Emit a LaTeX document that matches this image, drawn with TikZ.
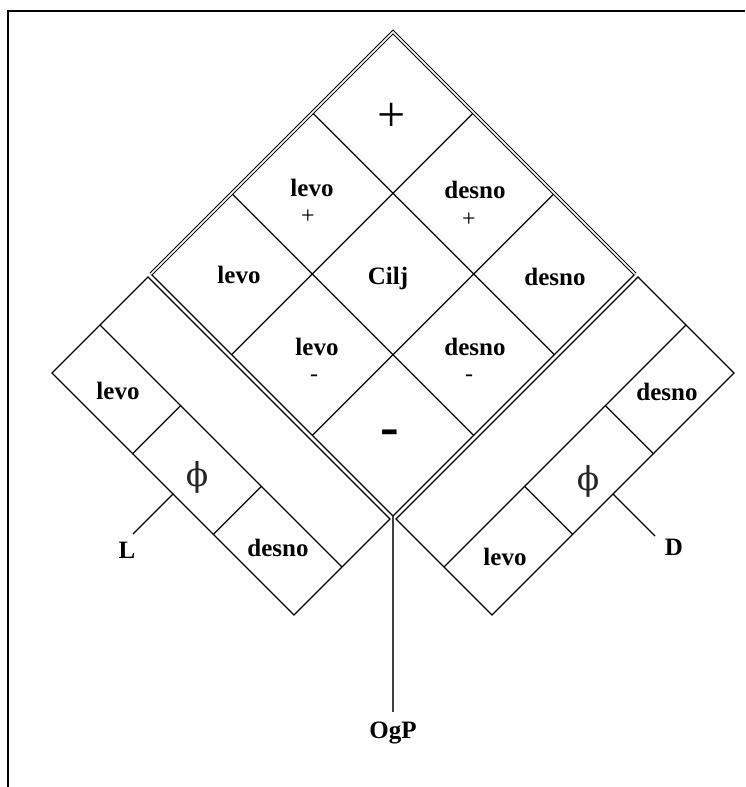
\documentclass[tikz,border=0pt]{standalone}
\usepackage{fontspec}
\setmainfont{Liberation Serif}
\newfontfamily\phifont{DejaVu Serif}
\usetikzlibrary{calc}
\begin{document}
\begin{tikzpicture}[x=1pt,y=-1pt,
  cell/.style={line width=1.2pt, line join=miter},
  frameline/.style={line width=1.6pt},
  dbl/.style={line width=1pt, double, double distance=1.6pt, line join=miter},
  stem/.style={line width=1.8pt, black!75},
  lbl/.style={font=\bfseries\fontsize{25}{25}\selectfont, inner sep=0pt},
  sml/.style={font=\fontsize{24}{24}\selectfont, inner sep=0pt},
  bigplus/.style={font=\fontsize{50}{50}\selectfont, inner sep=0pt},
  bigminus/.style={font=\bfseries\fontsize{56}{56}\selectfont, inner sep=0pt},
  phisym/.style={font=\phifont\fontsize{33}{33}\selectfont, inner sep=0pt, text=black!85}]
\useasboundingbox (0,0) rectangle (745,787);
% frame
\draw[frameline] (8,787) -- (8,11) -- (745,11);
% main diamond
\coordinate (T) at (393,32);
\coordinate (L) at (151,274);
\coordinate (R) at (635,274);
\coordinate (B) at (393,516);
\draw[cell] ($(T)!1/3!(R)$) -- ($(L)!1/3!(B)$);
\draw[cell] ($(T)!2/3!(R)$) -- ($(L)!2/3!(B)$);
\draw[cell] ($(T)!1/3!(L)$) -- ($(R)!1/3!(B)$);
\draw[cell] ($(T)!2/3!(L)$) -- ($(R)!2/3!(B)$);
\draw[cell] (L) -- (B) -- (R);
\draw[dbl] (L) -- (T) -- (R);
% left rectangle
\coordinate (A1) at ($(L)+(-3,3)$);
\coordinate (A2) at ($(B)+(-3,3)$);
\coordinate (A3) at ($(A2)+(-96,96)$);
\coordinate (A4) at ($(A1)+(-96,96)$);
\coordinate (M1) at ($(A1)!0.5!(A4)$);
\coordinate (M2) at ($(A2)!0.5!(A3)$);
\draw[cell] (A1) -- (A2) -- (A3) -- (A4) -- cycle;
\draw[cell] (M1) -- (M2);
\draw[cell] ($(A4)!1/3!(A3)$) -- ($(M1)!1/3!(M2)$);
\draw[cell] ($(A4)!2/3!(A3)$) -- ($(M1)!2/3!(M2)$);
\coordinate (Lp) at ($(A4)!0.5!(A3)$);
\coordinate (Le) at ($(Lp)+(-40,40)$);
\draw[cell] (Lp) -- (Le);
% right rectangle
\coordinate (C1) at ($(R)+(3,3)$);
\coordinate (C2) at ($(B)+(3,3)$);
\coordinate (C3) at ($(C2)+(96,96)$);
\coordinate (C4) at ($(C1)+(96,96)$);
\coordinate (N1) at ($(C1)!0.5!(C4)$);
\coordinate (N2) at ($(C2)!0.5!(C3)$);
\draw[cell] (C1) -- (C2) -- (C3) -- (C4) -- cycle;
\draw[cell] (N1) -- (N2);
\draw[cell] ($(C4)!1/3!(C3)$) -- ($(N1)!1/3!(N2)$);
\draw[cell] ($(C4)!2/3!(C3)$) -- ($(N1)!2/3!(N2)$);
\coordinate (Dp) at ($(C4)!0.5!(C3)$);
\coordinate (De) at ($(Dp)+(42,42)$);
\draw[cell] (Dp) -- (De);
% stem
\coordinate (Oe) at (393,712);
\draw[stem] (B) -- (Oe);
% diamond labels
\node[bigplus] (pbig) at (392,117) {+};
\node[lbl] (lv1) at (312,188) {levo};
\node[sml] (p1) at (308,217) {+};
\node[lbl] (ds1) at (475,190) {desno};
\node[sml] (p2) at (469,220) {+};
\node[lbl] (lv2) at (239,275) {levo};
\node[lbl] (cilj) at (388,278) {Cilj};
\node[lbl] (ds2) at (555,277) {desno};
\node[lbl] (lv3) at (317,347) {levo};
\node[sml] (m1) at (314,378) {-};
\node[lbl] (ds3) at (475,347) {desno};
\node[sml] (m2) at (469,378) {-};
\node[bigminus] (mbig) at (390,438) {-};
% left rectangle labels
\node[lbl] (llv) at (118,391) {levo};
\node[phisym] (lphi) at (197,477) {ϕ};
\node[lbl] (lds) at (278,548) {desno};
\node[lbl] (Llab) at (127,550) {L};
% right rectangle labels
\node[lbl] (rds) at (667,392) {desno};
\node[phisym] (rphi) at (588,481) {ϕ};
\node[lbl] (rlv) at (505,557) {levo};
\node[lbl] (Dlab) at (674,547) {D};
% stem label
\node[lbl] (ogp) at (393,733) {OgP};
\end{tikzpicture}
\end{document}
